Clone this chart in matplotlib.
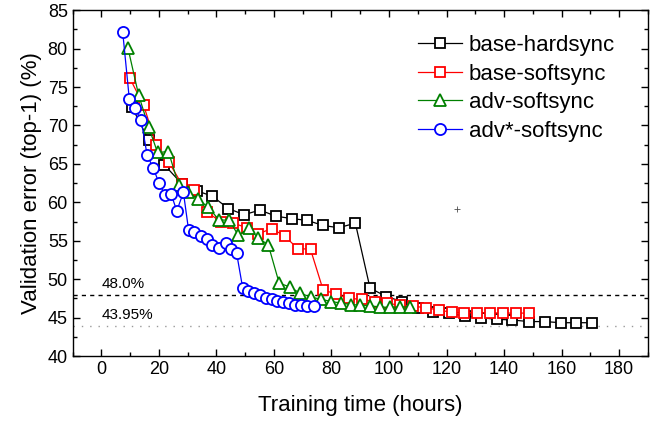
import matplotlib
matplotlib.use('Agg')
import matplotlib.pyplot as plt
from matplotlib.ticker import MultipleLocator

plt.rcParams['font.family'] = ['Liberation Sans', 'DejaVu Sans']

#%% data
hard_t = [10.6, 16.4, 21.8, 28.0, 33.2, 38.6, 44.1, 49.6, 55.1, 60.7, 66.1, 71.6,
          77.1, 82.5, 88.3, 93.4, 99.1, 104.6, 110.0, 115.4, 120.9, 126.5, 131.9,
          137.5, 142.9, 148.7, 154.2, 159.7, 165.1, 170.6]
hard_err = [72.4, 68.1, 64.9, 62.4, 61.5, 60.8, 59.2, 58.4, 59.0, 58.2, 57.9, 57.65,
            57.0, 56.7, 57.3, 48.85, 47.75, 47.1, 46.2, 45.8, 45.6, 45.2, 45.0,
            44.8, 44.7, 44.5, 44.5, 44.35, 44.35, 44.35]

soft_t = [9.8, 14.7, 19.1, 23.5, 27.9, 32.3, 36.8, 41.5, 45.9, 50.5, 54.5, 59.2,
          63.8, 68.2, 72.7, 77.1, 81.5, 86.1, 90.5, 95.0, 99.4, 103.9, 108.3,
          112.9, 117.3, 121.9, 126.2, 130.6, 135.2, 139.7, 144.1, 148.7]
soft_err = [76.2, 72.6, 67.4, 65.2, 62.4, 61.6, 58.7, 57.5, 57.3, 56.7, 55.9, 56.6,
            55.6, 54.0, 53.9, 48.6, 48.1, 47.5, 47.4, 47.1, 46.9, 46.6, 46.5,
            46.3, 46.0, 45.7, 45.65, 45.65, 45.65, 45.6, 45.6, 45.6]

adv_t = [9.2, 12.9, 16.4, 19.5, 23.3, 26.8, 30.2, 33.6, 37.2, 40.9, 44.4, 47.6,
         51.3, 54.5, 58.0, 61.8, 65.5, 69.0, 72.7, 76.3, 80.0, 83.4, 86.9, 90.0,
         93.5, 96.7, 100.2, 103.9, 107.4]
adv_err = [80.1, 74.0, 69.8, 66.5, 66.6, 62.3, 61.3, 60.4, 59.35, 57.7, 57.7, 55.7,
           56.7, 55.35, 54.5, 49.5, 49.0, 48.2, 47.7, 47.4, 47.1, 46.9, 46.7, 46.65,
           46.55, 46.4, 46.35, 46.4, 46.4]

advs_t = [7.4, 9.7, 11.5, 13.8, 15.9, 18.0, 20.0, 22.2, 24.2, 26.2, 28.5, 30.3,
          32.2, 34.6, 36.8, 38.6, 40.9, 43.2, 45.1, 47.0, 49.1, 51.1, 53.1, 55.1,
          57.2, 59.2, 61.2, 63.2, 65.3, 67.3, 69.3, 71.6, 73.9]
advs_err = [82.1, 73.4, 72.3, 70.7, 66.1, 64.5, 62.5, 60.9, 61.1, 58.9, 61.3, 56.4,
            56.1, 55.6, 55.2, 54.4, 54.1, 54.7, 54.0, 53.4, 48.9, 48.5, 48.2, 47.9,
            47.6, 47.4, 47.2, 47.0, 46.9, 46.7, 46.6, 46.55, 46.55]

ref_hard = 48.0    # dashed reference
ref_best = 43.95   # dotted reference
stray = (123.7, 59.2)

#%% plot
fig = plt.figure(figsize=(6.55, 4.23), dpi=100)
ax = fig.add_axes([0.111, 0.158, 0.878, 0.818])

ax.axhline(ref_hard, color='k', lw=1.0, ls=(0, (3, 3)), zorder=1)
ax.axhline(ref_best, color='0.6', lw=1.0, ls=(0, (1, 5)), zorder=1)
ax.text(0, ref_hard + 0.45, '48.0%', fontsize=11, ha='left', va='bottom')
ax.text(0, ref_best + 0.45, '43.95%', fontsize=11, ha='left', va='bottom')

mk = dict(mfc='white', mew=1.3, lw=0.9)
ax.plot(hard_t, hard_err, 's-', color='k', ms=7.5, label='base-hardsync', **mk)
ax.plot(soft_t, soft_err, 's-', color='#ff0000', ms=7.5, label='base-softsync', **mk)
ax.plot(adv_t, adv_err, '^-', color='#008000', ms=9.3, label='adv-softsync', **mk)
ax.plot(advs_t, advs_err, 'o-', color='#0000ff', ms=8, label='adv*-softsync', **mk)
ax.plot(*stray, '+', color='0.3', ms=4, mew=0.6)

ax.set_xlim(-10, 190)
ax.set_ylim(40, 85)
ax.xaxis.set_major_locator(MultipleLocator(20))
ax.xaxis.set_minor_locator(MultipleLocator(10))
ax.yaxis.set_major_locator(MultipleLocator(5))
ax.yaxis.set_minor_locator(MultipleLocator(2.5))
ax.tick_params(which='both', direction='in', top=True, right=True, labelsize=13)
ax.tick_params(which='major', length=5, width=1)
ax.tick_params(which='minor', length=3, width=1)
for s in ax.spines.values():
    s.set_linewidth(1.0)

ax.set_xlabel('Training time (hours)', fontsize=16, labelpad=12)
ax.set_ylabel('Validation error (top-1) (%)', fontsize=16)

ax.legend(loc='upper left', bbox_to_anchor=(0.6, 0.928), frameon=False,
          fontsize=16, handlelength=2.0, handletextpad=0.3, labelspacing=0.34,
          borderpad=0, borderaxespad=0)

fig.savefig('out.png', dpi=100)
